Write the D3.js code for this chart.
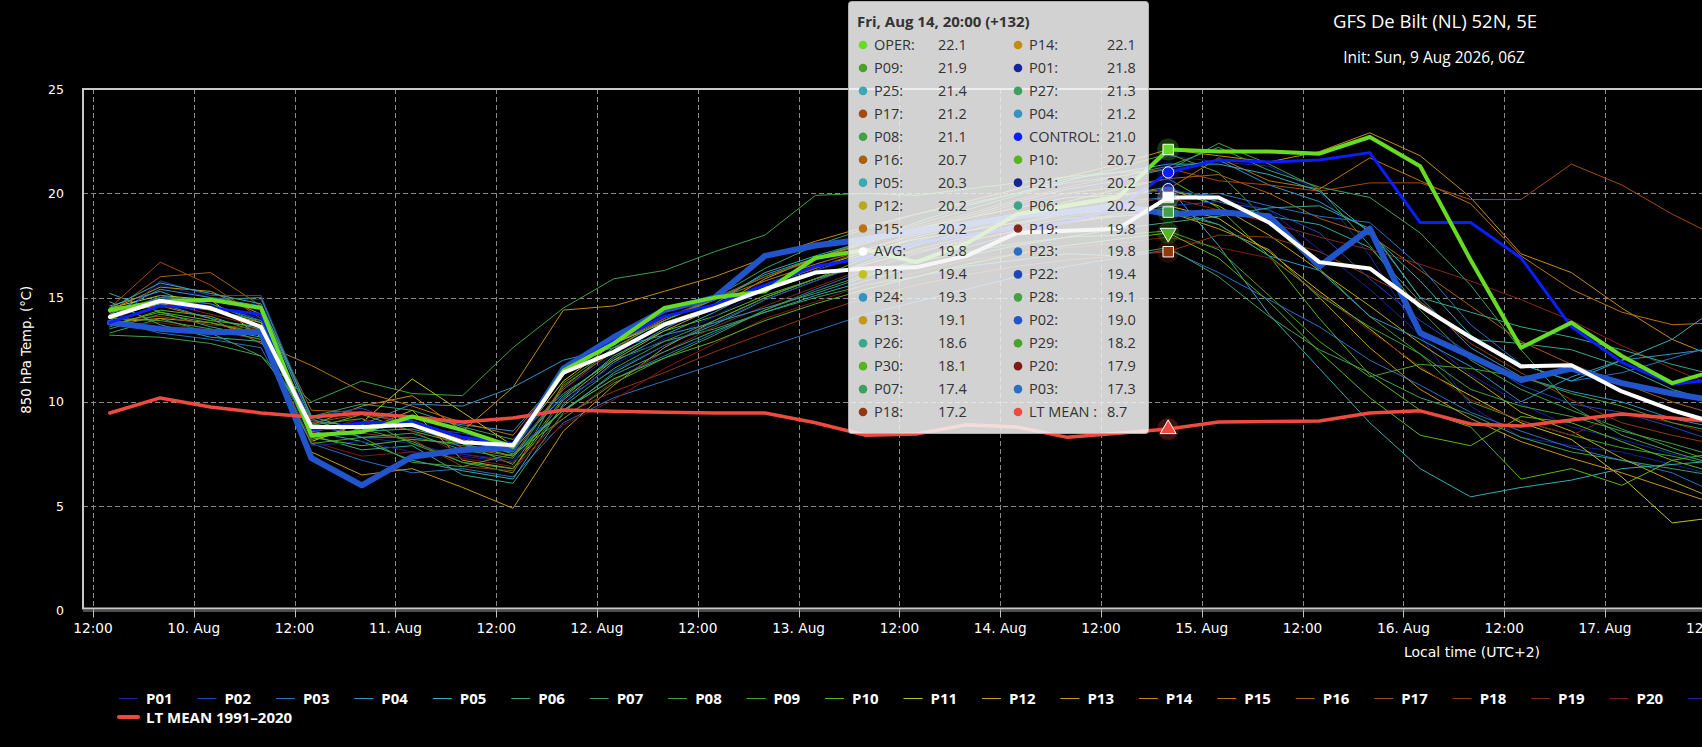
<!DOCTYPE html>
<html>
<head>
<meta charset="utf-8">
<script src="https://cdn.jsdelivr.net/npm/d3@7"></script>
<style>
html, body { margin: 0; padding: 0; background: #000; overflow: hidden; }
svg { display: block; }
</style>
</head>
<body>
<svg id="chart" width="1702" height="747"></svg>
<script>
// Lead times in hours after the 06Z init run
var leadHours = [6,12,18,24,30,36,42,48,54,60,66,72,78,84,90,96,102,108,114,120,126,132,138,144,150,156,162,168,174,180,186,192,198];

var titleText = "GFS De Bilt (NL) 52N, 5E";
var subtitleText = "Init: Sun, 9 Aug 2026, 06Z";
var yTitle = "850 hPa Temp. (\u00B0C)";
var xTitle = "Local time (UTC+2)";
var yTicks = [0, 5, 10, 15, 20, 25];

// Ensemble members P01..P30 (850 hPa temperature, deg C)
var p01 = [14.0,15.6,15.0,14.9,8.9,8.3,8.0,7.4,7.1,10.6, 12.3,13.6,14.4,15.8,16.6,17.4,18.0,18.6,19.4,19.9, 20.6,21.8,21.5,21.3,20.1,17.0,13.2,9.8,8.3,7.9, 7.6,7.0,6.4];
var p02 = [13.8,13.5,13.35,13.35,7.3,6.0,7.37,7.7,7.8,11.6, 13.1,14.4,15.0,17.0,17.5,17.8,18.2,18.5,18.9,19.1, 19.4,19.0,19.1,18.9,16.5,18.3,13.3,12.2,11.05,11.6, 10.9,10.4,10.0];
var p03 = [13.9,13.3,13.0,12.6,8.0,7.2,6.6,6.8,6.4,9.0, 10.2,11.0,11.8,12.6,13.4,14.2,14.8,15.4,16.0,16.5, 16.9,17.3,16.2,14.9,13.6,12.0,10.8,9.5,8.6,7.8, 7.2,6.6,5.5];
var p04 = [14.2,15.4,15.0,14.6,9.1,8.8,9.3,8.9,8.6,11.3, 12.8,13.9,14.9,16.1,16.9,17.6,18.3,18.9,19.6,20.2, 20.6,21.2,21.6,20.4,19.6,18.2,15.0,12.6,11.2,10.5, 10.0,9.2,8.7];
var p05 = [14.6,15.3,14.4,13.9,8.6,8.1,7.2,6.7,6.3,9.9, 11.9,13.2,14.3,15.5,16.3,17.1,17.9,18.4,18.9,19.5, 19.9,20.3,17.5,14.2,11.6,9.0,6.8,5.45,5.9,6.25, 6.8,7.0,7.2];
var p06 = [15.2,14.3,13.6,13.1,8.4,7.7,7.9,6.5,6.1,9.5, 11.4,12.7,13.7,14.9,15.8,16.7,17.5,18.2,18.8,19.4, 19.8,20.2,19.6,18.9,18.5,17.4,14.8,13.0,12.8,12.5, 11.7,10.6,9.9];
var p07 = [13.3,14.0,13.3,12.2,9.3,9.9,9.6,8.8,8.2,10.4, 12.0,12.9,13.5,14.3,15.0,15.6,16.0,16.5,16.8,17.1, 17.0,17.4,16.0,14.1,12.5,11.4,10.2,9.4,8.3,7.6, 7.2,6.8,6.4];
var p08 = [13.2,13.1,12.8,12.2,10.0,11.0,10.4,10.3,12.6,14.5, 15.9,16.3,17.2,18.0,19.9,20.0,19.9,20.2,20.5,20.8, 21.0,21.1,22.4,21.4,20.2,17.5,14.4,12.0,10.6,9.6, 8.7,7.8,7.0];
var p09 = [14.3,15.0,14.7,13.8,8.2,8.7,8.1,7.1,6.6,10.9, 12.6,13.9,14.9,16.0,16.9,17.7,18.5,19.2,19.9,20.6, 21.2,21.9,21.0,18.6,16.4,14.1,12.3,10.0,9.1,8.4, 7.8,7.4,6.9];
var p10 = [13.6,14.4,14.1,13.3,8.7,9.4,8.6,8.0,7.0,10.2, 12.2,13.4,14.1,15.1,15.9,16.9,17.7,18.3,19.0,19.6, 20.2,20.7,19.3,17.0,14.0,11.3,9.6,8.8,6.3,6.8, 6.0,7.2,7.6];
var p11 = [14.5,15.1,14.9,13.1,8.1,9.0,11.1,9.5,7.9,11.0, 12.8,13.8,14.6,15.6,16.4,17.2,17.8,18.2,18.6,19.0, 19.2,19.4,18.8,17.2,15.3,13.5,11.6,10.3,9.0,8.2, 6.4,4.2,4.5];
var p12 = [14.1,14.7,14.4,13.8,8.3,8.6,9.6,7.2,6.8,10.1, 12.0,13.4,14.5,15.9,16.9,17.6,18.3,18.8,19.3,19.8, 19.9,20.2,19.4,18.0,16.3,14.6,12.8,11.2,9.5,8.6, 7.3,6.2,5.2];
var p13 = [13.8,14.0,13.8,13.2,7.6,6.5,6.8,5.9,4.9,8.6, 10.8,12.6,13.9,15.0,15.9,16.6,17.2,17.7,18.2,18.6, 18.9,19.1,18.3,17.3,15.0,12.6,10.6,9.2,8.1,7.3, 6.6,5.8,5.0];
var p14 = [14.4,15.5,15.3,14.2,8.9,9.8,10.3,8.6,10.7,14.4, 14.6,15.3,16.0,16.9,17.7,18.4,19.0,19.6,20.2,20.8, 21.4,22.1,21.8,21.5,22.0,22.9,21.8,19.8,17.1,16.2, 14.5,13.0,12.0];
var p15 = [14.3,14.6,14.0,12.8,11.75,10.5,9.8,9.0,8.4,11.4, 12.8,14.0,14.9,15.8,16.6,17.3,18.0,18.5,19.0,19.5, 19.9,20.2,21.7,20.6,20.2,21.7,20.6,19.5,17.0,15.4, 14.3,13.7,13.8];
var p16 = [14.3,16.0,16.2,14.6,9.6,9.5,8.9,7.8,7.4,10.8, 12.4,13.7,14.6,15.6,16.4,17.3,18.1,18.8,19.5,20.0, 20.3,20.7,20.9,20.0,18.8,18.0,16.3,14.6,12.9,11.8, 10.9,10.0,9.3];
var p17 = [14.5,16.7,15.6,14.0,9.0,9.4,9.0,8.2,7.6,10.6, 12.5,14.0,15.0,16.0,16.8,17.6,18.4,19.0,19.7,20.3, 20.8,21.2,20.6,20.4,20.1,20.5,20.5,19.7,19.7,21.4, 20.4,19.0,17.8];
var p18 = [13.9,14.1,13.7,13.5,8.8,8.5,8.2,6.9,6.7,9.4, 10.5,11.4,12.4,13.3,14.2,15.0,15.6,16.1,16.5,16.8, 17.0,17.2,18.0,17.9,17.2,16.0,14.8,12.8,11.4,10.1, 9.0,8.4,7.9];
var p19 = [14.0,14.8,14.2,13.6,8.5,9.2,8.6,7.5,7.1,9.2, 11.0,12.4,13.6,14.6,15.5,16.4,17.2,17.8,18.5,19.0, 19.4,19.8,19.2,18.6,17.9,17.3,16.6,15.8,14.9,13.9, 12.7,11.6,10.6];
var p20 = [13.7,13.8,13.4,13.0,8.1,7.4,7.6,7.3,6.9,8.9, 10.1,11.6,12.8,14.0,14.8,15.6,16.2,16.8,17.1,17.4, 17.6,17.9,17.4,16.9,15.2,13.4,11.7,10.1,9.1,8.4, 9.5,9.0,8.3];
var p21 = [13.8,15.0,14.6,14.0,7.9,8.1,7.6,7.5,7.2,10.0, 11.8,13.0,14.1,15.4,16.3,17.0,17.7,18.3,18.9,19.4, 19.8,20.2,19.8,19.2,17.3,15.4,13.2,11.3,9.9,8.8, 8.2,7.5,7.0];
var p22 = [13.6,15.8,15.1,15.1,9.3,9.7,8.8,8.5,7.9,10.2, 11.5,12.7,13.8,14.9,15.8,16.6,17.3,17.9,18.5,18.9, 19.1,19.4,19.6,19.2,18.1,15.9,13.9,12.3,10.8,9.9, 9.5,8.8,8.0];
var p23 = [13.9,15.1,14.7,13.9,9.0,8.3,8.3,7.9,7.6,9.6, 11.1,12.2,13.3,14.4,15.4,16.3,17.1,17.8,18.5,19.1, 19.6,19.8,20.0,19.4,18.9,18.6,16.5,13.7,11.8,11.0, 11.4,12.1,12.8];
var p24 = [14.2,14.7,14.0,13.5,8.6,8.9,9.9,9.8,10.7,12.0, 12.6,13.2,13.8,14.5,15.2,16.0,16.8,17.4,18.1,18.6, 19.0,19.3,18.5,17.0,16.3,14.1,13.0,11.7,10.0,11.2, 12.0,12.3,12.6];
var p25 = [14.5,15.7,15.2,14.7,9.3,8.6,8.7,8.1,7.7,10.3, 12.1,13.5,14.7,16.2,17.0,17.7,18.6,19.4,20.0,20.7, 21.0,21.4,21.4,20.9,20.1,18.1,15.8,13.2,11.8,11.0, 12.0,13.0,14.7];
var p26 = [14.8,13.7,13.1,12.9,8.7,9.0,9.1,8.3,7.5,9.6, 11.3,12.4,13.4,14.3,15.1,15.8,16.5,17.0,17.5,17.9, 18.3,18.6,18.9,19.3,19.4,18.3,15.0,14.3,13.6,13.1, 12.5,11.8,11.2];
var p27 = [14.0,15.0,14.9,15.0,9.2,8.3,8.5,7.7,7.3,10.7, 12.6,13.9,15.0,16.4,17.5,18.3,19.0,19.5,20.0,20.5, 20.8,21.3,22.2,21.1,20.3,19.8,18.1,15.6,12.5,9.8, 8.4,7.6,6.9];
var p28 = [13.5,14.2,13.8,13.3,8.9,9.2,8.0,7.1,6.8,9.8, 11.6,12.9,13.9,15.0,15.9,16.6,17.3,17.9,18.4,18.8, 18.9,19.1,18.5,17.0,15.1,13.6,12.3,10.6,9.8,9.3, 8.6,8.0,7.3];
var p29 = [14.0,13.9,13.5,13.0,8.0,8.3,7.1,6.9,7.5,9.2, 10.9,12.1,13.2,14.4,15.3,16.1,16.7,17.2,17.6,17.9, 18.0,18.2,17.3,15.1,12.9,11.2,11.8,11.6,11.2,10.4, 9.8,9.0,8.5];
var p30 = [13.7,14.3,13.9,13.6,8.3,7.9,8.2,8.0,7.4,9.6, 11.1,12.1,12.9,13.9,14.7,15.4,16.0,16.6,17.1,17.5, 17.8,18.1,16.9,14.8,12.4,10.2,8.4,7.9,9.3,9.0, 8.1,7.2,6.5];

var control = [13.8,14.6,14.5,14.2,8.65,9.0,9.04,8.3,8.0,11.5, 12.9,14.1,14.65,15.6,16.5,16.9,17.6,18.0,18.3,18.6, 19.3,21.0,21.6,21.5,21.6,21.95,18.6,18.6,16.9,13.6, 11.9,10.85,11.1];
var oper = [14.4,14.8,14.9,14.5,8.4,8.56,9.3,8.65,7.85,11.5, 12.8,14.5,15.0,15.3,16.9,17.3,16.7,17.6,19.0,19.4, 19.8,22.1,22.0,22.0,21.9,22.7,21.3,16.8,12.6,13.8, 12.2,10.9,11.6];
var avg = [14.07,14.85,14.5,13.6,8.8,8.8,8.9,8.07,7.93,11.4, 12.4,13.7,14.5,15.4,16.2,16.4,16.45,17.0,18.1,18.2, 18.3,19.8,19.8,18.6,16.7,16.4,14.6,13.1,11.7,11.76, 10.5,9.6,8.9];
var ltMean = [9.47,10.19,9.76,9.47,9.28,9.47,9.28,9.04,9.23,9.61, 9.55,9.5,9.47,9.47,9.0,8.4,8.46,8.9,8.8,8.3, 8.5,8.7,9.04,9.06,9.08,9.47,9.57,8.94,8.84,9.13, 9.42,9.23,9.0];

var memberValues = [p01,p02,p03,p04,p05,p06,p07,p08,p09,p10,p11,p12,p13,p14,p15,p16,p17,p18,p19,p20,
                    p21,p22,p23,p24,p25,p26,p27,p28,p29,p30];
// 20 colour ramp, reused for P21..P30
var memberPalette = ['#16239a','#1f46b8','#2b6fc0','#3592c2','#3aa9b3','#3aa68a','#3e9f60','#43a044','#4aa22a','#59b51d',
                     '#c2c21e','#b9a71f','#c3981e','#c48a17','#b97316','#aa5f10','#a34b10','#923810','#862717','#7e1a18'];

// Shared tooltip at +132 h, in the order it is listed
var tooltipIndex = 21;
var tooltipHeader = "Fri, Aug 14, 20:00 (+132)";
var tooltipOrder = ['OPER','P14','P09','P01','P25','P27','P17','P04','P08','CONTROL','P16','P10','P05','P21','P12','P06','P15','P19',
                    'AVG','P23','P11','P22','P24','P28','P13','P02','P26','P29','P30','P20','P07','P03','P18','LT MEAN'];
var hoverMarkers = [
    {name: 'OPER', symbol: 'square'}, {name: 'CONTROL', symbol: 'circle'}, {name: 'P21', symbol: 'circle'},
    {name: 'AVG', symbol: 'square'}, {name: 'P28', symbol: 'square'}, {name: 'P30', symbol: 'triangle-down'},
    {name: 'P18', symbol: 'square'}, {name: 'LT MEAN', symbol: 'triangle'}
];
// Legend entries that fit on screen in the first row (the rest run past the right edge)
var legendVisibleCount = 21;

// Build the series table
var series = [];
memberValues.forEach(function(values, i)
{
    var name = 'P' + d3.format('02d')(i + 1);
    series.push({name: name, values: values, color: memberPalette[i % 20], width: 1});
});
series[1].width = 6;              // P02 is the hovered series
series[1].lineColor = '#2255cc';
series.push({name: 'LT MEAN', values: ltMean, color: '#f04a40', width: 3.5, tipName: 'LT MEAN '});
series.push({name: 'CONTROL', values: control, color: '#0a1eff', width: 3});
series.push({name: 'OPER', values: oper, color: '#66dd22', width: 4});
series.push({name: 'AVG', values: avg, color: '#ffffff', width: 4});
var byName = {};
series.forEach(function(s) { byName[s.name] = s; });

var initUtc = Date.UTC(2026, 7, 9, 6);
var utcOffset = 2;
function localTime(h) { return new Date(initUtc + (h + utcOffset) * 3600e3); }
var times = leadHours.map(localTime);

var svg = d3.select('#chart');
var plot = {left: 83, top: 89, bottom: 610.5, right: 1790};

var x = d3.scaleUtc()
    .domain([new Date(Date.UTC(2026, 7, 9, 12)), new Date(Date.UTC(2026, 7, 18, 12))])
    .range([93, 93 + 216 * 8.4]);
var y = d3.scaleLinear().domain([0, 25]).range([plot.bottom, plot.top]);

svg.append('rect').attr('width', 1702).attr('height', 747).attr('fill', '#000');

svg.append('defs').append('clipPath').attr('id', 'plotClip')
    .append('rect').attr('x', plot.left).attr('y', plot.top - 2)
    .attr('width', plot.right - plot.left).attr('height', plot.bottom - plot.top + 4);

// Grid
var xTicks = d3.utcHour.every(12).range(new Date(Date.UTC(2026, 7, 9, 12)), new Date(Date.UTC(2026, 7, 18, 1)));
var grid = svg.append('g').attr('stroke', '#8a8a8a').attr('stroke-width', 1).attr('stroke-dasharray', '5,3');
grid.selectAll('line.h').data(yTicks.filter(function(v) { return v > 0 && v < 25; }))
    .join('line').attr('class', 'h')
    .attr('x1', plot.left).attr('x2', plot.right)
    .attr('y1', function(d) { return Math.round(y(d)) + 0.5; })
    .attr('y2', function(d) { return Math.round(y(d)) + 0.5; });
grid.selectAll('line.v').data(xTicks)
    .join('line').attr('class', 'v')
    .attr('x1', function(d) { return Math.round(x(d)) + 0.5; })
    .attr('x2', function(d) { return Math.round(x(d)) + 0.5; })
    .attr('y1', plot.top).attr('y2', plot.bottom);

// Lines
var line = d3.line()
    .x(function(d, i) { return x(times[i]); })
    .y(function(d) { return y(d); });

var lineGroup = svg.append('g').attr('clip-path', 'url(#plotClip)')
    .attr('fill', 'none').attr('stroke-linejoin', 'round').attr('stroke-linecap', 'round');
var drawOrder = series.filter(function(s) { return s.width === 1; })
    .concat([byName['P02'], byName['LT MEAN'], byName['CONTROL'], byName['OPER'], byName['AVG']]);
lineGroup.selectAll('path').data(drawOrder)
    .join('path')
    .attr('d', function(s) { return line(s.values); })
    .attr('stroke', function(s) { return s.lineColor || s.color; })
    .attr('stroke-width', function(s) { return s.width; });

// Plot frame
svg.append('rect')
    .attr('x', plot.left).attr('y', plot.top)
    .attr('width', plot.right - plot.left).attr('height', plot.bottom - plot.top - 2)
    .attr('fill', 'none').attr('stroke', '#c8c8c8').attr('stroke-width', 2);
svg.append('line').attr('x1', plot.left).attr('x2', plot.right)
    .attr('y1', plot.bottom + 0.5).attr('y2', plot.bottom + 0.5)
    .attr('stroke', '#9a9a9a').attr('stroke-width', 1);

// X axis
var xAxis = svg.append('g');
xAxis.selectAll('line').data(xTicks).join('line')
    .attr('x1', function(d) { return Math.round(x(d)) + 0.5; })
    .attr('x2', function(d) { return Math.round(x(d)) + 0.5; })
    .attr('y1', plot.bottom).attr('y2', plot.bottom + 7)
    .attr('stroke', '#c0c0c0');
var dayFormat = d3.utcFormat('%-d. %b');
xAxis.selectAll('text').data(xTicks).join('text')
    .attr('x', function(d) { return x(d); })
    .attr('y', 633)
    .attr('text-anchor', 'middle')
    .attr('fill', '#fff')
    .style('font', '13.7px "DejaVu Sans", sans-serif')
    .text(function(d) { return d.getUTCHours() === 0 ? dayFormat(d) : '12:00'; });
svg.append('text').attr('x', 1472).attr('y', 657).attr('text-anchor', 'middle')
    .attr('fill', '#fff').style('font', '14px "DejaVu Sans", sans-serif').text(xTitle);

// Y axis
svg.append('g').selectAll('text').data(yTicks).join('text')
    .attr('x', 64).attr('y', function(d) { return y(d) + 4.5; })
    .attr('text-anchor', 'end').attr('fill', '#fff')
    .style('font', '12.5px "DejaVu Sans", sans-serif')
    .text(function(d) { return d; });
svg.append('text').attr('transform', 'translate(31,' + ((plot.top + plot.bottom) / 2) + ') rotate(-90)')
    .attr('text-anchor', 'middle').attr('fill', '#fff')
    .style('font', '13.3px "DejaVu Sans", sans-serif').text(yTitle);

// Titles
svg.append('text').attr('x', 1435).attr('y', 28).attr('text-anchor', 'middle').attr('fill', '#fff')
    .style('font', '18.5px "Open Sans", sans-serif').text(titleText);
svg.append('text').attr('x', 1434).attr('y', 63).attr('text-anchor', 'middle').attr('fill', '#fff')
    .style('font', '15.5px "Open Sans", sans-serif').text(subtitleText);

// Legend
var legendRow1 = series.filter(function(s) { return /^P\d\d$/.test(s.name); }).slice(0, legendVisibleCount);
var legend = svg.append('g').style('font', 'bold 15px "Open Sans", sans-serif');
var item = legend.selectAll('g.item').data(legendRow1).join('g').attr('class', 'item')
    .attr('transform', function(d, i) { return 'translate(' + (119 + 78.45 * i) + ',0)'; });
item.append('line').attr('x1', 0).attr('x2', 19).attr('y1', 698.5).attr('y2', 698.5)
    .attr('stroke', function(d) { return d.color; })
    .attr('stroke-width', 1);
item.filter(function(d, i) { return i < legendVisibleCount - 1; })
    .append('text').attr('x', 27).attr('y', 703.5).attr('fill', '#fff').text(function(d) { return d.name; });
legend.append('line').attr('x1', 119).attr('x2', 138).attr('y1', 717).attr('y2', 717)
    .attr('stroke', byName['LT MEAN'].color).attr('stroke-width', 4).attr('stroke-linecap', 'round');
legend.append('text').attr('x', 146).attr('y', 722.5).attr('fill', '#fff').text('LT MEAN 1991\u20132020');

// Tooltip box
var tip = svg.append('g');
tip.append('rect').attr('x', 848.5).attr('y', 1.5).attr('width', 300).attr('height', 432).attr('rx', 3)
    .attr('fill', 'rgb(244,244,244)').attr('fill-opacity', 0.86).attr('stroke', '#b0b0b0');
tip.append('text').attr('x', 857).attr('y', 27).attr('fill', '#333')
    .style('font', 'bold 15px "Open Sans", sans-serif').text(tooltipHeader);
var fmt = d3.format('.1f');
var rows = tip.selectAll('g.row').data(tooltipOrder).join('g').attr('class', 'row')
    .attr('transform', function(d, i) { return 'translate(' + (i % 2 ? 155 : 0) + ',' + (50 + 22.94 * Math.floor(i / 2)) + ')'; })
    .style('font', '14.5px "Open Sans", sans-serif');
rows.append('circle').attr('cx', 863).attr('cy', -5).attr('r', 4.3)
    .attr('fill', function(d) { return byName[d].lineColor || byName[d].color; });
rows.append('text').attr('x', 874).attr('fill', '#333')
    .text(function(d) { return (byName[d].tipName || d) + ':'; });
rows.append('text').attr('x', function(d, i) { return i % 2 ? 952 : 938; }).attr('fill', '#333')
    .text(function(d) { return fmt(byName[d].values[tooltipIndex]); });

// Hover markers with halo at the tooltip point
var symbolType = {square: d3.symbolSquare, circle: d3.symbolCircle, triangle: d3.symbolTriangle, 'triangle-down': d3.symbolTriangle};
var mk = svg.append('g').selectAll('g').data(hoverMarkers).join('g')
    .attr('transform', function(d) {
        return 'translate(' + x(times[tooltipIndex]) + ',' + y(byName[d.name].values[tooltipIndex]) + ')';
    });
mk.append('circle').attr('r', 11)
    .attr('fill', function(d) { return byName[d.name].color; }).attr('fill-opacity', 0.25);
mk.append('path')
    .attr('d', function(d) { return d3.symbol(symbolType[d.symbol], d.symbol === 'circle' ? 100 : 110)(); })
    .attr('transform', function(d) { return d.symbol === 'triangle-down' ? 'rotate(180)' : null; })
    .attr('fill', function(d) { return byName[d.name].color; })
    .attr('stroke', '#fff').attr('stroke-width', 1);
</script>
</body>
</html>
